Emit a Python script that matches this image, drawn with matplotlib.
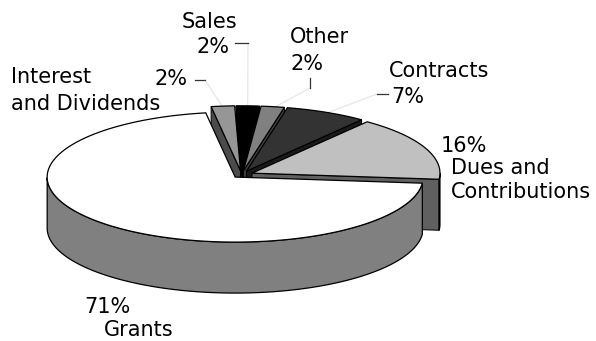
import numpy as np
import matplotlib
matplotlib.use("Agg")
import matplotlib.pyplot as plt
from matplotlib.patches import Polygon
from matplotlib.colors import to_rgb

# ---------------- data ----------------
categories = ["Interest and Dividends", "Sales", "Other", "Contracts",
              "Dues and Contributions", "Grants"]
values = [2, 2, 2, 7, 16, 71]
pct_labels = ["2%", "2%", "2%", "7%", "16%", "71%"]

# ---------------- style ----------------
top_colors = ["#969696", "#000000", "#808080", "#333333", "#c0c0c0", "#ffffff"]
explode = [0.06, 0.06, 0.06, 0.06, 0.06, 0.05]
START = 99.0                      # degrees, slices proceed clockwise
CX, CY, A, B, DEPTH = 241.6, 174.7, 188.0, 65.0, 51.0
FS = 15

fig = plt.figure(figsize=(5.96, 3.41), dpi=100)
ax = fig.add_axes([0, 0, 1, 1])
ax.set_xlim(0, 596)
ax.set_ylim(341, 0)
ax.axis("off")

total = float(sum(values))
spans = []
t = START
for v in values:
    s = 360.0 * v / total
    spans.append((t - s, t))
    t -= s


def shade(c, f=0.5):
    r, g, b = to_rgb(c)
    return (r * f, g * f, b * f)


def pt(i, theta, r=1.0, h=0.0):
    t0, t1 = spans[i]
    mid = np.radians((t0 + t1) / 2)
    ox = explode[i] * A * np.cos(mid)
    oy = -explode[i] * B * np.sin(mid)
    th = np.radians(theta)
    return (CX + ox + r * A * np.cos(th), CY + oy - r * B * np.sin(th) + h)


walls = []
for i, (t0, t1) in enumerate(spans):
    col = top_colors[i]
    # radial walls
    for th, vis in ((t0, np.cos(np.radians(t0)) > 0), (t1, np.cos(np.radians(t1)) < 0)):
        if vis:
            poly = [pt(i, th, 0), pt(i, th, 1), pt(i, th, 1, DEPTH), pt(i, th, 0, DEPTH)]
            key = pt(i, th, 0.5)[1]
            walls.append((key, poly, shade(col)))
    # rim (front-facing part)
    ths = np.linspace(t0, t1, 400)
    front = np.sin(np.radians(ths)) < 0
    run = []
    runs = []
    for th, f in zip(ths, front):
        if f:
            run.append(th)
        elif run:
            runs.append(run); run = []
    if run:
        runs.append(run)
    for rr in runs:
        topp = [pt(i, th) for th in rr]
        bot = [pt(i, th, 1, DEPTH) for th in rr[::-1]]
        ax.add_patch(Polygon(topp + bot, closed=True, facecolor=shade(col),
                             edgecolor="black", lw=0.9, zorder=2))
    # top
    arc = [pt(i, th) for th in np.linspace(t0, t1, 200)]
    ax.add_patch(Polygon([pt(i, 0, 0)] + arc, closed=True, facecolor=col,
                         edgecolor="black", lw=0.9, zorder=3))

walls.sort(key=lambda w: w[0])
for k, (key, poly, c) in enumerate(walls):
    ax.add_patch(Polygon(poly, closed=True, facecolor=c, edgecolor="black",
                         lw=0.7, zorder=1 + k * 0.01))

# ---------------- labels ----------------
# (text, x_left, baseline)
label_layout = {
    0: [("Interest", 11, 83), ("and Dividends", 11, 110), (pct_labels[0], 154, 85)],
    1: [(categories[1], 182, 28), (pct_labels[1], 197, 53)],
    2: [(categories[2], 290, 43), (pct_labels[2], 291, 70)],
    3: [(categories[3], 389, 77), (pct_labels[3], 391, 103)],
    4: [(pct_labels[4], 441, 152), ("Dues and", 451, 174), ("Contributions", 451, 198)],
    5: [(pct_labels[5], 84, 313), (categories[5], 104, 336)],
}
for i, items in label_layout.items():
    for txt, x, y in items:
        ax.text(x, y, txt, fontsize=FS, family="DejaVu Sans", ha="left",
                va="baseline", color="black", zorder=5)

# leader ticks and faint leader lines
ticks = {
    0: ((195, 80), (205, 80)),
    1: ((235, 43), (248, 43)),
    2: ((310, 78), (310, 88)),
    3: ((388, 94), (377, 94)),
}
for i, (p0, p1) in ticks.items():
    ax.plot([p0[0], p1[0]], [p0[1], p1[1]], color="#333333", lw=0.9, zorder=5)
    t0, t1 = spans[i]
    end = pt(i, (t0 + t1) / 2, 0.97)
    ax.plot([p1[0], end[0]], [p1[1], end[1]], color="#e4e4e4", lw=0.8, zorder=0.5)

fig.savefig("out.png", dpi=100)
